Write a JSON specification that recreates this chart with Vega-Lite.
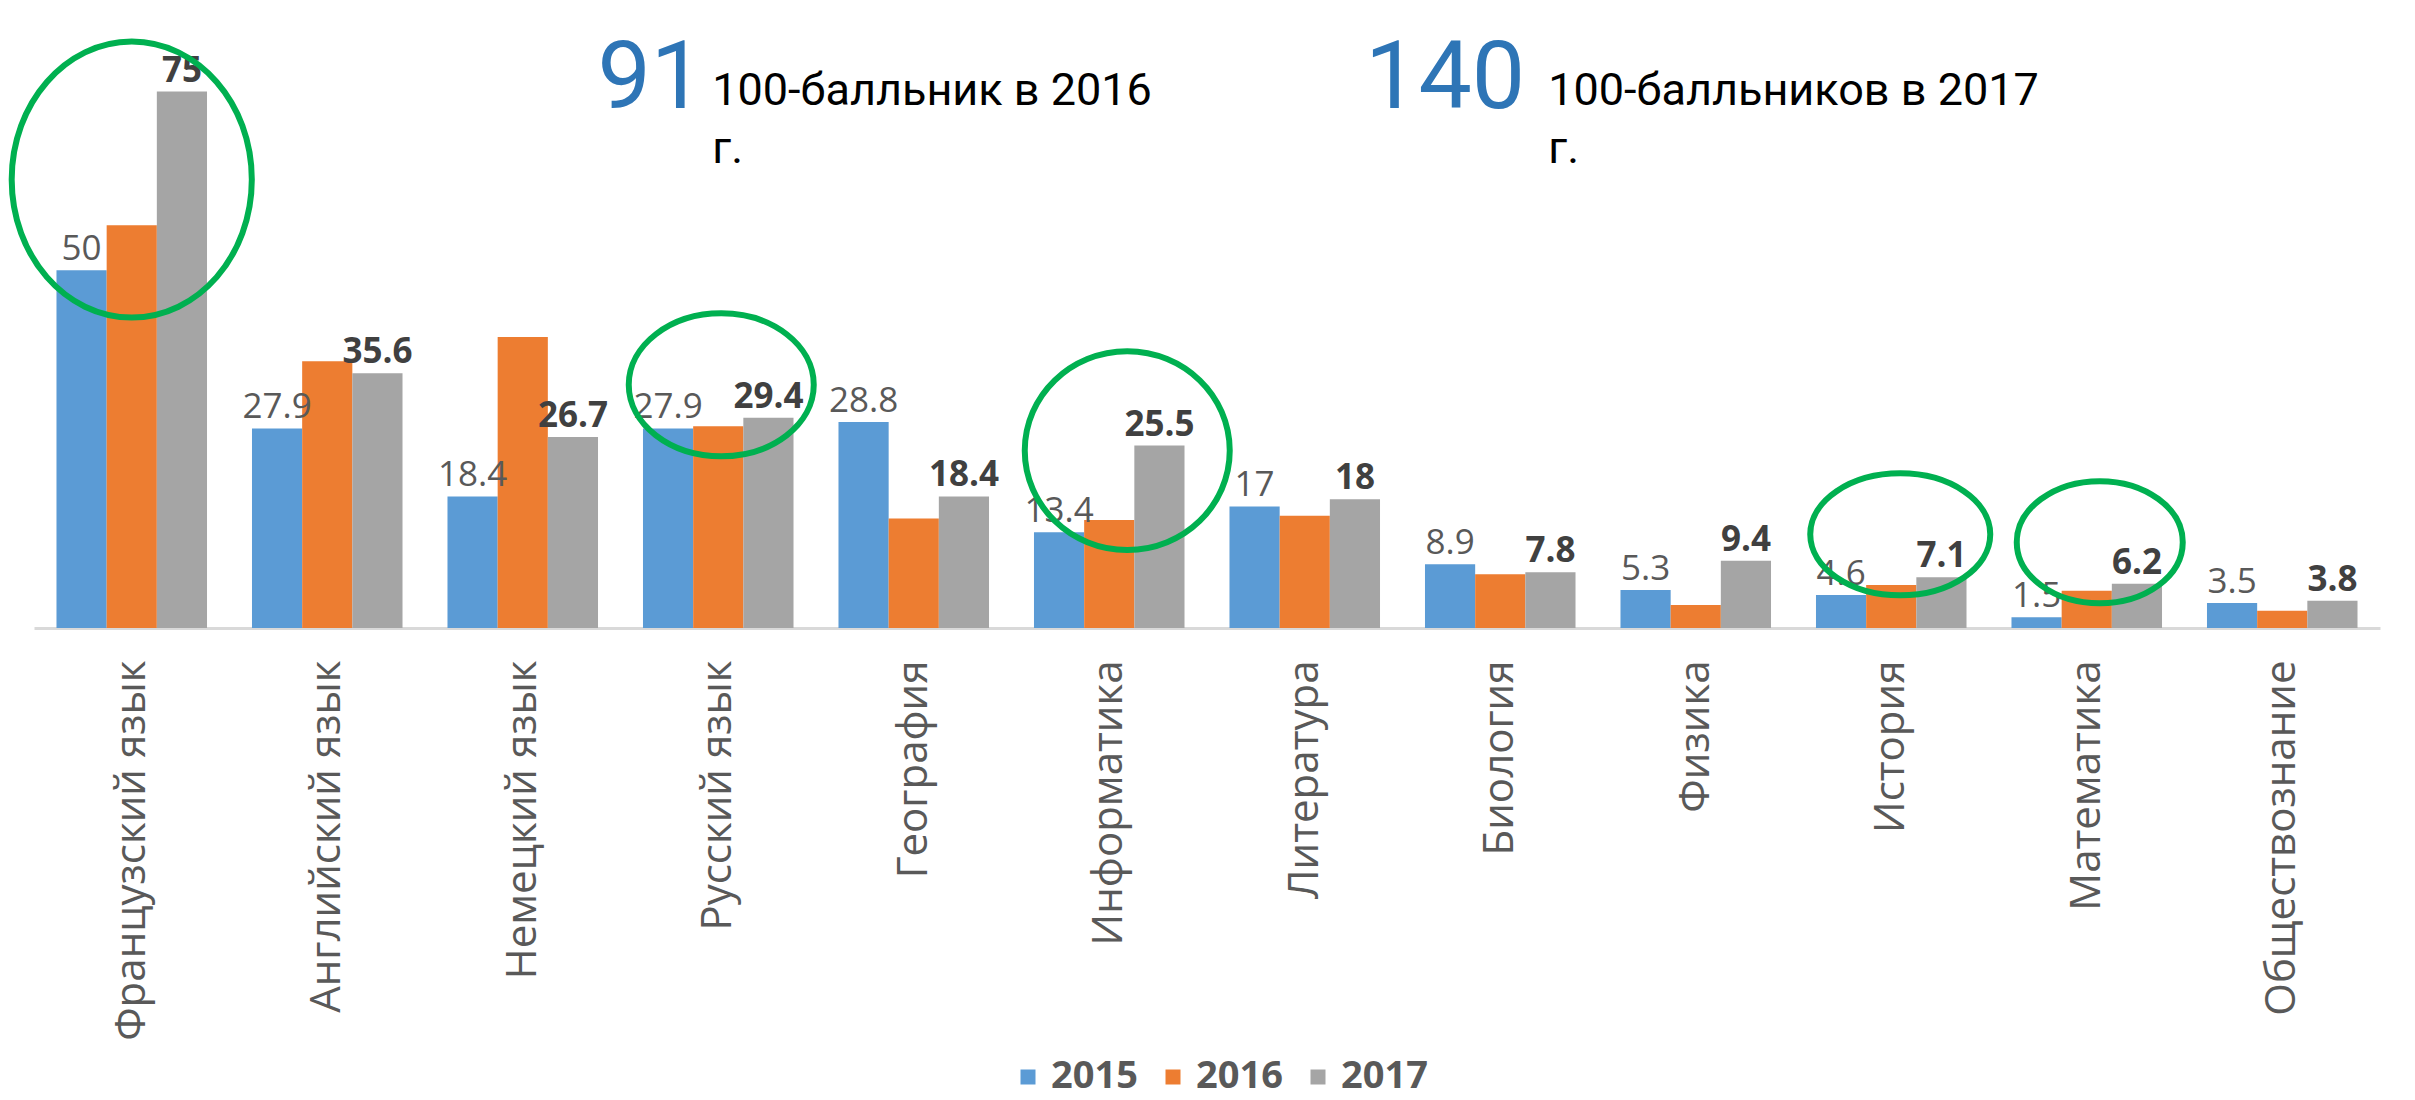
{
  "$schema": "https://vega.github.io/schema/vega-lite/v6.json",
  "width": 2346,
  "height": 628,
  "autosize": {"type": "none"},
  "padding": {"left": 34, "top": 0, "right": 35, "bottom": 472},
  "background": "white",
  "config": {
    "view": {"stroke": null},
    "font": "Open Sans",
    "axis": {"grid": false},
    "legend": {"symbolStrokeWidth": 0}
  },
  "datasets": {
    "scores": [
      {"subject": "Французский язык", "year": "2015", "value": 50},
      {"subject": "Французский язык", "year": "2016", "value": 56.3},
      {"subject": "Французский язык", "year": "2017", "value": 75},
      {"subject": "Английский язык", "year": "2015", "value": 27.9},
      {"subject": "Английский язык", "year": "2016", "value": 37.3},
      {"subject": "Английский язык", "year": "2017", "value": 35.6},
      {"subject": "Немецкий язык", "year": "2015", "value": 18.4},
      {"subject": "Немецкий язык", "year": "2016", "value": 40.7},
      {"subject": "Немецкий язык", "year": "2017", "value": 26.7},
      {"subject": "Русский язык", "year": "2015", "value": 27.9},
      {"subject": "Русский язык", "year": "2016", "value": 28.2},
      {"subject": "Русский язык", "year": "2017", "value": 29.4},
      {"subject": "География", "year": "2015", "value": 28.8},
      {"subject": "География", "year": "2016", "value": 15.3},
      {"subject": "География", "year": "2017", "value": 18.4},
      {"subject": "Информатика", "year": "2015", "value": 13.4},
      {"subject": "Информатика", "year": "2016", "value": 15.1},
      {"subject": "Информатика", "year": "2017", "value": 25.5},
      {"subject": "Литература", "year": "2015", "value": 17},
      {"subject": "Литература", "year": "2016", "value": 15.7},
      {"subject": "Литература", "year": "2017", "value": 18},
      {"subject": "Биология", "year": "2015", "value": 8.9},
      {"subject": "Биология", "year": "2016", "value": 7.5},
      {"subject": "Биология", "year": "2017", "value": 7.8},
      {"subject": "Физика", "year": "2015", "value": 5.3},
      {"subject": "Физика", "year": "2016", "value": 3.2},
      {"subject": "Физика", "year": "2017", "value": 9.4},
      {"subject": "История", "year": "2015", "value": 4.6},
      {"subject": "История", "year": "2016", "value": 6.0},
      {"subject": "История", "year": "2017", "value": 7.1},
      {"subject": "Математика", "year": "2015", "value": 1.5},
      {"subject": "Математика", "year": "2016", "value": 5.2},
      {"subject": "Математика", "year": "2017", "value": 6.2},
      {"subject": "Обществознание", "year": "2015", "value": 3.5},
      {"subject": "Обществознание", "year": "2016", "value": 2.4},
      {"subject": "Обществознание", "year": "2017", "value": 3.8}
    ]
  },
  "encoding": {
    "x": {
      "field": "subject", "type": "nominal",
      "scale": {
        "domain": ["Французский язык", "Английский язык", "Немецкий язык", "Русский язык", "География", "Информатика", "Литература", "Биология", "Физика", "История", "Математика", "Обществознание"],
        "paddingInner": 0.23, "paddingOuter": 0.115
      },
      "axis": {
        "title": null, "domainColor": "#D9D9D9", "domainWidth": 3, "ticks": false,
        "labelColor": "#595959", "labelFont": "Open Sans", "labelFontSize": 42,
        "labelAngle": -90, "labelPadding": 32, "labelLimit": 700
      }
    },
    "y": {
      "field": "value", "type": "quantitative",
      "scale": {"domain": [0, 87.8], "nice": false, "zero": true},
      "axis": null
    }
  },
  "layer": [
    {
      "data": {"name": "scores"},
      "mark": {"type": "bar"},
      "encoding": {
        "xOffset": {"field": "year", "type": "nominal", "scale": {"domain": ["2015", "2016", "2017"], "paddingInner": 0, "paddingOuter": 0}},
        "color": {
          "field": "year", "type": "nominal",
          "scale": {"domain": ["2015", "2016", "2017"], "range": ["#5B9BD5", "#ED7D31", "#A5A5A5"]},
          "legend": {
            "orient": "none", "legendX": 975, "legendY": 1058, "direction": "horizontal",
            "title": null, "symbolType": "square", "symbolSize": 225,
            "labelFont": "Open Sans", "labelFontSize": 38, "labelFontWeight": "bold",
            "labelColor": "#595959", "columnPadding": 16, "labelOffset": 4
          }
        }
      }
    },
    {
      "data": {"name": "scores"},
      "transform": [{"filter": "datum.year == '2015'"}],
      "mark": {"type": "text", "baseline": "alphabetic", "dy": -10, "fontSize": 35, "font": "Open Sans", "color": "#595959"},
      "encoding": {
        "xOffset": {"field": "year", "type": "nominal"},
        "text": {"field": "value", "type": "quantitative"}
      }
    },
    {
      "data": {"name": "scores"},
      "transform": [{"filter": "datum.year == '2017'"}],
      "mark": {"type": "text", "baseline": "alphabetic", "dy": -10, "fontSize": 35, "font": "Open Sans", "fontWeight": "bold", "color": "#404040"},
      "encoding": {
        "xOffset": {"field": "year", "type": "nominal"},
        "text": {"field": "value", "type": "quantitative"}
      }
    },
    {
      "data": {"values": [{"subject": "Французский язык", "value": 62.7}]},
      "mark": {"type": "point", "shape": "M -0.87,0 A 0.87,1 0 1,0 0.87,0 A 0.87,1 0 1,0 -0.87,0 Z", "size": 76176, "filled": false, "stroke": "#00B050", "strokeWidth": 6, "opacity": 1}
    },
    {
      "data": {"values": [{"subject": "Русский язык", "value": 34.0}]},
      "mark": {"type": "point", "shape": "M -1,0 A 1,0.773 0 1,0 1,0 A 1,0.773 0 1,0 -1,0 Z", "size": 34225, "filled": false, "stroke": "#00B050", "strokeWidth": 6, "opacity": 1, "xOffset": 3}
    },
    {
      "data": {"values": [{"subject": "Информатика", "value": 24.8}]},
      "mark": {"type": "point", "shape": "M -1,0 A 1,0.97 0 1,0 1,0 A 1,0.97 0 1,0 -1,0 Z", "size": 42025, "filled": false, "stroke": "#00B050", "strokeWidth": 6, "opacity": 1, "xOffset": 18}
    },
    {
      "data": {"values": [{"subject": "История", "value": 13.1}]},
      "mark": {"type": "point", "shape": "M -1,0 A 1,0.678 0 1,0 1,0 A 1,0.678 0 1,0 -1,0 Z", "size": 32400, "filled": false, "stroke": "#00B050", "strokeWidth": 6, "opacity": 1, "xOffset": 9}
    },
    {
      "data": {"values": [{"subject": "Математика", "value": 12.0}]},
      "mark": {"type": "point", "shape": "M -1,0 A 1,0.735 0 1,0 1,0 A 1,0.735 0 1,0 -1,0 Z", "size": 27556, "filled": false, "stroke": "#00B050", "strokeWidth": 6, "opacity": 1, "xOffset": 13}
    },
    {
      "data": {"values": [{"subject": "Русский язык", "value": 72.7, "note": "91"}]},
      "mark": {"type": "text", "font": "Roboto", "fontSize": 95, "color": "#2E75B6", "align": "right", "baseline": "alphabetic", "dx": -14},
      "encoding": {"text": {"field": "note"}}
    },
    {
      "data": {"values": [{"subject": "Русский язык", "value": 73.1, "note": "100-балльник в 2016|г."}]},
      "mark": {"type": "text", "font": "Roboto", "fontSize": 45, "color": "#000000", "align": "left", "baseline": "alphabetic", "dx": -6, "lineHeight": 58, "lineBreak": "|"},
      "encoding": {"text": {"field": "note"}}
    },
    {
      "data": {"values": [{"subject": "Биология", "value": 72.7, "note": "140"}]},
      "mark": {"type": "text", "font": "Roboto", "fontSize": 95, "color": "#2E75B6", "align": "right", "baseline": "alphabetic", "dx": 25},
      "encoding": {"text": {"field": "note"}}
    },
    {
      "data": {"values": [{"subject": "Биология", "value": 73.1, "note": "100-балльников в 2017|г."}]},
      "mark": {"type": "text", "font": "Roboto", "fontSize": 45, "color": "#000000", "align": "left", "baseline": "alphabetic", "dx": 48, "lineHeight": 58, "lineBreak": "|"},
      "encoding": {"text": {"field": "note"}}
    }
  ]
}
